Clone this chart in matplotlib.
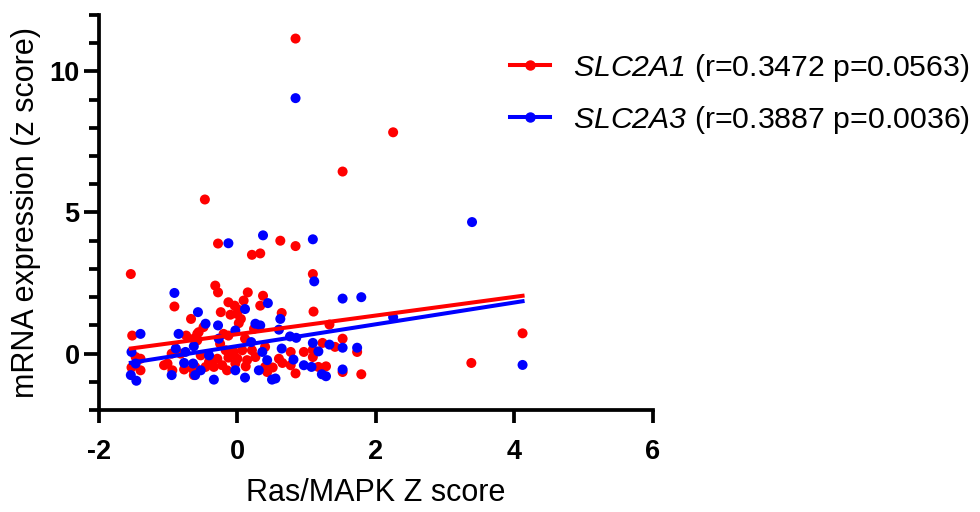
import matplotlib
matplotlib.use("Agg")
import matplotlib.pyplot as plt
import numpy as np
from matplotlib.ticker import MultipleLocator
from matplotlib.lines import Line2D

plt.rcParams['font.family'] = ['Liberation Sans', 'DejaVu Sans']
plt.rcParams['mathtext.fontset'] = 'custom'
plt.rcParams['mathtext.rm'] = 'Liberation Sans:italic'
plt.rcParams['mathtext.it'] = 'Liberation Sans:italic'
plt.rcParams['axes.unicode_minus'] = False

# SLC2A1 (red)
slc2a1_x = [0.84, 2.25, 1.52, -0.47, 0.62, 4.12, 3.38, 1.73, 1.79, 0.84, 1.09, 0.64, 1.10, 1.33,
            1.52, 0.77, 0.96, 1.23, 1.41, 1.09, 0.60, 0.65, 0.77, 0.84, 1.09, 1.17, 1.28, 1.52,
            -0.28, 0.21, 0.33, -0.32, -0.28, 0.15, 0.37, 0.09, -0.13, -0.04, 0.33, 0.02, -0.24,
            -0.10, -0.01, 0.05, 0.02, -0.49, 0.24, -0.56, -0.20, -0.13, 0.11, -0.58, -0.25, -0.17,
            -0.05, 0.07, 0.21, 0.40, -0.53, -0.29, -0.13, 0.00, 0.14, 0.26, -0.41, -0.46, -0.34,
            -0.22, -0.15, -0.03, 0.12, 0.40, 0.43, 0.51, -0.61,
            -1.54, -0.91, -0.67, -1.52, -0.74, -0.58, -0.63, -1.47, -1.40, -0.95, -0.89, -0.82,
            -1.01, -1.06, -0.94, -0.77, -0.65, -0.63, -1.53, -1.40]
slc2a1_y = [11.16, 7.84, 6.45, 5.46, 4.00, 0.72, -0.33, 0.06, -0.73, 3.81, 2.82, 1.44, 1.49, 1.03,
            0.53, 0.06, 0.06, 0.38, 0.24, 0.14, -0.18, -0.33, -0.41, -0.70, -0.12, -0.47, -0.45, -0.65,
            3.90, 3.50, 3.55, 2.41, 2.17, 2.17, 2.05, 1.88, 1.82, 1.70, 1.70, 1.55, 1.47,
            1.38, 1.41, 1.23, 1.08, 0.94, 0.88, 0.76, 0.70, 0.64, 0.53, 0.47, 0.35, 0.12,
            0.06, 0.12, 0.12, 0.24, -0.06, -0.18, -0.14, -0.18, -0.23, -0.12, -0.29, -0.47, -0.47,
            -0.41, -0.59, -0.35, -0.45, -0.47, -0.65, -0.49, -0.47,
            2.82, 1.67, 1.23, 0.64, 0.64, 0.70, 0.53, -0.12, -0.18, 0.00, 0.06, 0.00,
            -0.35, -0.41, -0.59, -0.56, -0.53, -0.76, -0.49, -0.59]

# SLC2A3 (blue)
slc2a3_x = [0.84, 3.39, 0.37, 1.09, 4.12, 2.25, 1.79, 1.73, 1.11, 1.52, 0.62, 0.60, 0.76, 0.85,
            0.64, 1.09, 1.33, 1.52, 1.17, 0.81, 0.96, 1.07, 1.22, 1.28, 1.52, 0.55,
            -0.13, 0.44, 0.11, -0.57, -0.46, -0.28, 0.26, 0.33, -0.03, -0.27, 0.20, -0.41, 0.36,
            0.43, -0.03, 0.31, -0.34, 0.11, 0.50, -0.53, -0.61,
            -0.91, -1.40, -0.85, -0.63, -1.53, -0.89, -0.75, -0.77, -0.64, -0.95, -1.54, -1.46, -1.47]
slc2a3_y = [9.05, 4.66, 4.19, 4.05, -0.40, 1.29, 2.00, 0.21, 2.56, 1.95, 1.23, 0.85, 0.61, 0.56,
            0.18, 0.38, 0.32, 0.21, 0.08, -0.21, -0.41, -0.47, -0.73, -0.80, -0.56, -0.88,
            3.91, 1.79, 1.58, 1.47, 1.06, 1.00, 1.06, 1.00, 0.82, 0.53, 0.41, -0.06, 0.06,
            -0.23, -0.59, -0.59, -0.92, -0.85, -0.92, -0.59, -0.76,
            2.15, 0.70, 0.70, 0.26, 0.06, 0.18, 0.06, -0.33, -0.35, -0.76, -0.76, -0.96, -0.35]

# fitted lines (slope, intercept)
fit_a1 = (0.330, 0.69)
fit_a3 = (0.385, 0.27)
label_a1 = r"$\mathrm{SLC2A1}$ (r=0.3472 p=0.0563)"
label_a3 = r"$\mathrm{SLC2A3}$ (r=0.3887 p=0.0036)"

fig = plt.figure(figsize=(9.8, 5.12), dpi=100)
ax = fig.add_axes([0.101, 0.199, 0.565, 0.772])

series = [(slc2a1_x, slc2a1_y, fit_a1, '#ff0000', label_a1),
          (slc2a3_x, slc2a3_y, fit_a3, '#0000ff', label_a3)]
for xs, ys, fit, col, lab in series:
    ax.scatter(xs, ys, s=52, color=col, edgecolors='none', zorder=3)
    xx = np.array([min(xs), max(xs)])
    ax.plot(xx, fit[0] * xx + fit[1], color=col, lw=2.9, zorder=4)

ax.set_xlim(-2, 6)
ax.set_ylim(-2, 12)
ax.set_xticks([-2, 0, 2, 4, 6])
ax.set_yticks([0, 5, 10])
ax.yaxis.set_minor_locator(MultipleLocator(1))
for s in ['top', 'right']:
    ax.spines[s].set_visible(False)
for s in ['left', 'bottom']:
    ax.spines[s].set_linewidth(2.7)
ax.tick_params(axis='x', which='major', width=2.7, length=9.5, labelsize=19.5, pad=11)
ax.tick_params(axis='y', which='major', width=2.7, length=11, labelsize=19.5, pad=3)
ax.tick_params(axis='y', which='minor', width=2.7, length=7)
for t in ax.get_xticklabels() + ax.get_yticklabels():
    t.set_fontweight('bold')

ax.set_xlabel("Ras/MAPK Z score", fontsize=22, labelpad=10)
ax.set_ylabel("mRNA expression (z score)", fontsize=22, labelpad=6)

hl = [Line2D([], [], color=c, lw=2.9, marker='o', markersize=6.5) for _, _, _, c, _ in series]
fig.legend(hl, [s[4] for s in series], loc='upper left', bbox_to_anchor=(0.508, 0.922),
           frameon=False, fontsize=21.8, handlelength=1.32, labelspacing=0.66,
           handletextpad=0.76, borderpad=0.4, borderaxespad=0)

fig.savefig("out.png", dpi=100)
